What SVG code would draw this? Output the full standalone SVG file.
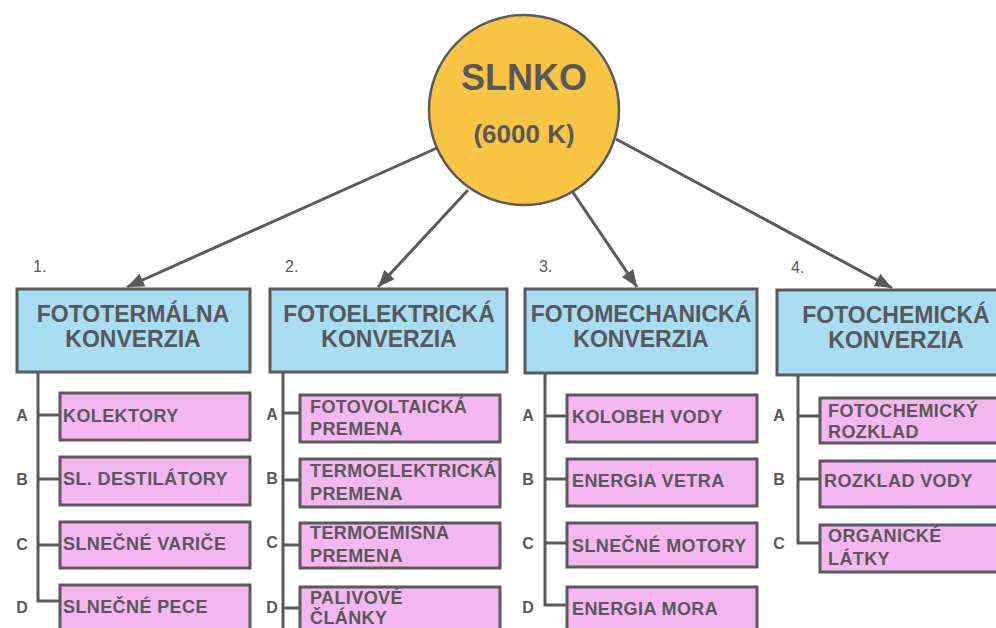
<svg xmlns="http://www.w3.org/2000/svg" width="996" height="628" viewBox="0 0 996 628">
<defs>
<marker id="ah" markerWidth="18" markerHeight="14" refX="17" refY="7" orient="auto" markerUnits="userSpaceOnUse">
<path d="M0,0 L17,7 L0,14 z" fill="#5a5a5a"/>
</marker>
<style>
text{font-family:"Liberation Sans",Arial,sans-serif;font-weight:bold;fill:#58585a}
.cat rect{fill:#a8dcf0;stroke:#5a5a5a;stroke-width:3}
.sub rect{fill:#f4b6ef;stroke:#5a5a5a;stroke-width:3}
.cat text{font-size:23px;text-anchor:middle}
.sub text{font-size:18px;letter-spacing:0.4px}
.num{font-size:16px;font-weight:normal}
.let{font-size:16px;text-anchor:middle}
.conn line,.conn path{stroke:#5a5a5a;stroke-width:3;fill:none}
</style>
</defs>
<rect width="996" height="628" fill="#ffffff"/>

<g class="conn">
<line x1="437" y1="148" x2="127" y2="287" marker-end="url(#ah)"/>
<line x1="468" y1="190" x2="378" y2="287" marker-end="url(#ah)"/>
<line x1="572" y1="191" x2="637" y2="287" marker-end="url(#ah)"/>
<line x1="616" y1="139" x2="892" y2="288" marker-end="url(#ah)"/>
<path d="M38,372 V601 H60 M38,415 H60 M38,479 H60 M38,545 H60"/>
<path d="M283,371 V628 M283,413 H300 M283,480 H300 M283,545 H300 M283,608 H300"/>
<path d="M545,373 V605 H567 M545,416 H567 M545,479 H567 M545,543 H567"/>
<path d="M798,375 V543 H820 M798,416 H820 M798,479 H820"/>
</g>

<g id="slnko">
<circle cx="524" cy="110" r="95" fill="#f8c444" stroke="#5a5a5a" stroke-width="2.5"/>
<text x="524" y="90" font-size="36" text-anchor="middle">SLNKO</text>
<text x="524" y="143" font-size="26" text-anchor="middle">(6000 K)</text>
</g>

<text class="num" x="33" y="272">1.</text>
<text class="num" x="285" y="272">2.</text>
<text class="num" x="539" y="272">3.</text>
<text class="num" x="791" y="273">4.</text>

<g id="cat1" class="cat"><rect x="17" y="289" width="233" height="83"/><text x="133" y="322">FOTOTERMÁLNA</text><text x="133" y="347">KONVERZIA</text></g>
<g id="cat2" class="cat"><rect x="270" y="289" width="237" height="83"/><text x="389" y="322">FOTOELEKTRICKÁ</text><text x="389" y="347">KONVERZIA</text></g>
<g id="cat3" class="cat"><rect x="525" y="289" width="232" height="84"/><text x="641" y="322">FOTOMECHANICKÁ</text><text x="641" y="347">KONVERZIA</text></g>
<g id="cat4" class="cat"><rect x="777" y="290" width="238" height="85"/><text x="896" y="323">FOTOCHEMICKÁ</text><text x="896" y="348">KONVERZIA</text></g>

<g class="let">
<text class="let" x="22" y="421">A</text><text class="let" x="22" y="485">B</text><text class="let" x="22" y="550">C</text><text class="let" x="22" y="613">D</text>
<text class="let" x="272" y="420">A</text><text class="let" x="272" y="484">B</text><text class="let" x="272" y="548">C</text><text class="let" x="272" y="613">D</text>
<text class="let" x="528" y="421">A</text><text class="let" x="528" y="485">B</text><text class="let" x="528" y="549">C</text><text class="let" x="528" y="613">D</text>
<text class="let" x="779" y="421">A</text><text class="let" x="779" y="485">B</text><text class="let" x="779" y="549">C</text>
</g>

<g id="s1a" class="sub"><rect x="60" y="393" width="190" height="47"/><text x="63" y="422">KOLEKTORY</text></g>
<g id="s1b" class="sub"><rect x="60" y="457" width="190" height="48"/><text x="63" y="485">SL. DESTILÁTORY</text></g>
<g id="s1c" class="sub"><rect x="60" y="522" width="190" height="46"/><text x="63" y="550">SLNEČNÉ VARIČE</text></g>
<g id="s1d" class="sub"><rect x="60" y="585" width="190" height="60"/><text x="63" y="613">SLNEČNÉ PECE</text></g>

<g id="s2a" class="sub"><rect x="300" y="395" width="200" height="47"/><text x="310" y="413">FOTOVOLTAICKÁ</text><text x="310" y="435">PREMENA</text></g>
<g id="s2b" class="sub"><rect x="300" y="459" width="200" height="48"/><text x="310" y="477">TERMOELEKTRICKÁ</text><text x="310" y="500">PREMENA</text></g>
<g id="s2c" class="sub"><rect x="300" y="523" width="200" height="45"/><text x="310" y="539">TERMOEMISNÁ</text><text x="310" y="562">PREMENA</text></g>
<g id="s2d" class="sub"><rect x="300" y="587" width="200" height="60"/><text x="310" y="604">PALIVOVÉ</text><text x="310" y="624">ČLÁNKY</text></g>

<g id="s3a" class="sub"><rect x="567" y="395" width="190" height="47"/><text x="572" y="423">KOLOBEH VODY</text></g>
<g id="s3b" class="sub"><rect x="567" y="459" width="190" height="47"/><text x="572" y="487">ENERGIA VETRA</text></g>
<g id="s3c" class="sub"><rect x="567" y="523" width="190" height="44"/><text x="572" y="552">SLNEČNÉ MOTORY</text></g>
<g id="s3d" class="sub"><rect x="567" y="587" width="190" height="60"/><text x="572" y="615">ENERGIA MORA</text></g>

<g id="s4a" class="sub"><rect x="820" y="398" width="195" height="45"/><text x="828" y="417">FOTOCHEMICKÝ</text><text x="828" y="438">ROZKLAD</text></g>
<g id="s4b" class="sub"><rect x="820" y="461" width="195" height="46"/><text x="824" y="487">ROZKLAD VODY</text></g>
<g id="s4c" class="sub"><rect x="820" y="525" width="195" height="47"/><text x="828" y="542">ORGANICKÉ</text><text x="828" y="565">LÁTKY</text></g>
</svg>
